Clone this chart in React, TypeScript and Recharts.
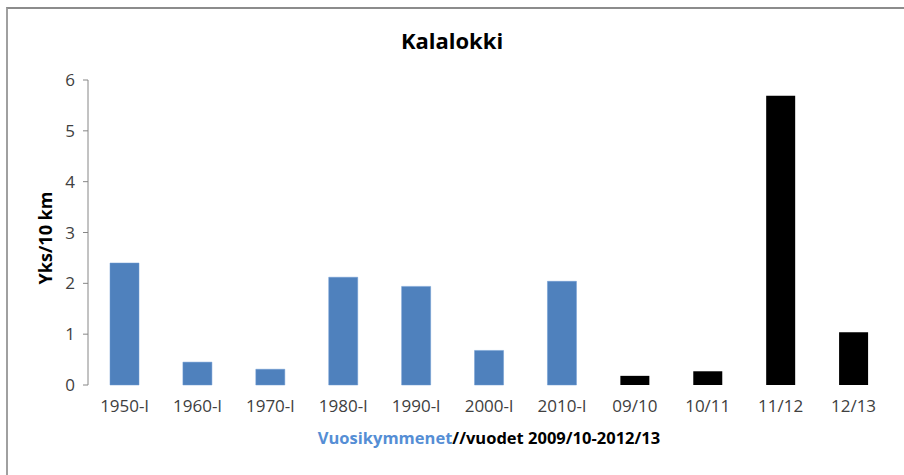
import React from "react"
import { BarChart, Bar, XAxis, YAxis } from "recharts"

// Kalalokki — decade averages (blue) followed by single seasons (black)
const categories = [
  "1950-l", "1960-l", "1970-l", "1980-l", "1990-l", "2000-l", "2010-l",
  "09/10", "10/11", "11/12", "12/13",
]
const decadeValues = [2.4, 0.45, 0.31, 2.12, 1.94, 0.68, 2.04]
const seasonValues = [0.18, 0.27, 5.69, 1.04]
const yTicks = [0, 1, 2, 3, 4, 5, 6]
const boundaryTicks = [0, 1, 2, 3, 4, 5, 6, 7, 8, 9, 10, 11]

const data = categories.map((name, i) => ({
  name,
  idx: i + 0.5,
  decade: i < decadeValues.length ? decadeValues[i] : undefined,
  season: i >= decadeValues.length ? seasonValues[i - decadeValues.length] : undefined,
}))

const FONT = "'Open Sans', 'DejaVu Sans', sans-serif"
const AXIS = "#868686"
const TEXT = "#404040"

export default function App() {
  return (
    <div
      style={{
        position: "fixed",
        left: 0,
        top: 0,
        width: 904,
        height: 475,
        overflow: "hidden",
        background: "#fff",
        fontFamily: FONT,
      }}
    >
      {/* chart frame */}
      <div
        style={{
          position: "absolute",
          left: 6,
          top: 7,
          width: 920,
          height: 466,
          borderTop: "2px solid #8c8c8c",
          borderLeft: "2px solid #a0a0a0",
          borderBottom: "1px solid #d0d0d0",
        }}
      />
      <div
        style={{
          position: "absolute",
          left: 0,
          width: 904,
          top: 25,
          textAlign: "center",
          fontSize: 22,
          fontWeight: 700,
          color: "#000",
        }}
      >
        Kalalokki
      </div>
      <div
        style={{
          position: "absolute",
          left: 45,
          top: 238,
          transform: "translate(-50%, -50%) rotate(-90deg)",
          fontSize: 18,
          fontWeight: 700,
          whiteSpace: "nowrap",
          color: "#000",
        }}
      >
        Yks/10 km
      </div>
      <div
        style={{
          position: "absolute",
          left: 88,
          width: 802,
          top: 426,
          textAlign: "center",
          fontSize: 16.5,
          fontWeight: 700,
          color: "#000",
        }}
      >
        <span style={{ color: "#558ED5" }}>Vuosikymmenet</span>//vuodet 2009/10-2012/13
      </div>

      <BarChart
        width={904}
        height={475}
        data={data}
        margin={{ top: 80, right: 14, bottom: 60, left: 58 }}
        barSize={29}
        style={{ position: "absolute", left: 0, top: 0 }}
      >
        <XAxis
          xAxisId="grid"
          dataKey="idx"
          type="number"
          domain={[0, 11]}
          ticks={boundaryTicks}
          tick={false}
          tickSize={6}
          height={0}
          stroke={AXIS}
          allowDataOverflow
        />
        <XAxis
          xAxisId="cat"
          dataKey="name"
          interval={0}
          axisLine={false}
          tickLine={false}
          height={30}
          tick={{ fontSize: 17, fill: TEXT, fontFamily: FONT }}
          tickMargin={9}
        />
        <YAxis
          domain={[0, 6]}
          ticks={yTicks}
          width={30}
          stroke={AXIS}
          tickSize={5}
          tickMargin={8}
          tick={{ fontSize: 17, fill: TEXT, fontFamily: FONT }}
        />
        <Bar
          xAxisId="cat"
          dataKey="decade"
          stackId="a"
          fill="#4F81BD"
          stroke="#6d9bd3"
          strokeWidth={0.5}
          isAnimationActive={false}
        />
        <Bar
          xAxisId="cat"
          dataKey="season"
          stackId="a"
          fill="#000000"
          isAnimationActive={false}
        />
      </BarChart>
    </div>
  )
}
